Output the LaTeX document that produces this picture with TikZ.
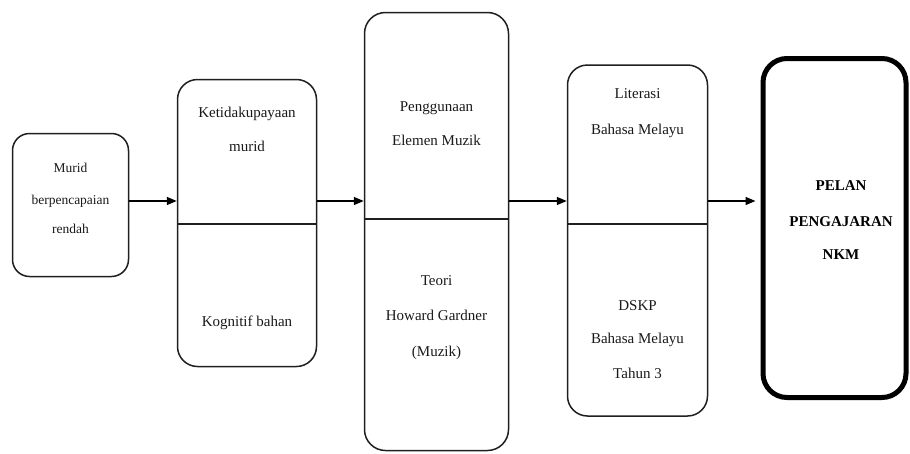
\documentclass[tikz,border=0pt]{standalone}
\usepackage{fontspec}
\setmainfont{Liberation Serif}
\usetikzlibrary{arrows.meta}
\begin{document}
\begin{tikzpicture}[x=1pt,y=-1pt,
  box/.style={draw=black!88, line width=1.5pt, inner sep=0pt},
  lbl/.style={inner sep=0pt, anchor=base, text=black!90, font=\fontsize{15}{18}\selectfont},
  smalllbl/.style={inner sep=0pt, anchor=base, text=black!90, font=\fontsize{13.5}{16}\selectfont},
  boldlbl/.style={inner sep=0pt, anchor=base, text=black, font=\fontsize{15}{18}\selectfont\bfseries},
  divider/.style={draw=black!88, line width=1.5pt},
  arr/.style={draw=black, line width=1.5pt, -{Triangle[length=10pt,width=8pt]}}]
\useasboundingbox (0,0) rectangle (910,453);

% boxes
\node[box, rounded corners=17pt, minimum width=116pt, minimum height=143pt] (b1) at (70.5,205) {};
\node[box, rounded corners=20pt, minimum width=139pt, minimum height=287pt] (b2) at (247,223) {};
\node[box, rounded corners=21pt, minimum width=144pt, minimum height=438pt] (b3) at (436.5,231.5) {};
\node[box, rounded corners=20pt, minimum width=140pt, minimum height=351pt] (b4) at (637.5,240.5) {};
\node[box, line width=5pt, draw=black, rounded corners=24pt, minimum width=143pt, minimum height=339pt] (b5) at (834.5,228) {};

% dividers
\coordinate (d2) at (0,224);
\coordinate (d3) at (0,219);
\coordinate (d4) at (0,224);
\draw[divider] (b2.west |- d2) -- (b2.east |- d2);
\draw[divider] (b3.west |- d3) -- (b3.east |- d3);
\draw[divider] (b4.west |- d4) -- (b4.east |- d4);

% arrows
\coordinate (ya) at (0,201);
\draw[arr] (b1.east |- ya) -- (b2.west |- ya);
\draw[arr] (b2.east |- ya) -- (b3.west |- ya);
\draw[arr] (b3.east |- ya) -- (b4.west |- ya);
\draw[arr, shorten >=5pt] (b4.east |- ya) -- (b5.west |- ya);

% texts box 1
\node[smalllbl] (t11) at (70.5,172.5) {Murid};
\node[smalllbl] (t12) at (70.5,204) {berpencapaian};
\node[smalllbl] (t13) at (70.5,233.5) {rendah};

% box 2
\node[lbl] (t21) at (247,117) {Ketidakupayaan};
\node[lbl] (t22) at (247,151) {murid};
\node[lbl] (t23) at (247,326) {Kognitif bahan};

% box 3
\node[lbl] (t31) at (436.5,111) {Penggunaan};
\node[lbl] (t32) at (436.5,145) {Elemen Muzik};
\node[lbl] (t33) at (436.5,285) {Teori};
\node[lbl] (t34) at (436.5,320) {Howard Gardner};
\node[lbl] (t35) at (436.5,356) {(Muzik)};

% box 4
\node[lbl] (t41) at (637.5,98) {Literasi};
\node[lbl] (t42) at (637.5,134) {Bahasa Melayu};
\node[lbl] (t43) at (637.5,310) {DSKP};
\node[lbl] (t44) at (637.5,343) {Bahasa Melayu};
\node[lbl] (t45) at (637.5,378) {Tahun 3};

% box 5
\node[boldlbl] (t51) at (841,190) {PELAN};
\node[boldlbl] (t52) at (841,226) {PENGAJARAN};
\node[boldlbl] (t53) at (841,259) {NKM};
\end{tikzpicture}
\end{document}
